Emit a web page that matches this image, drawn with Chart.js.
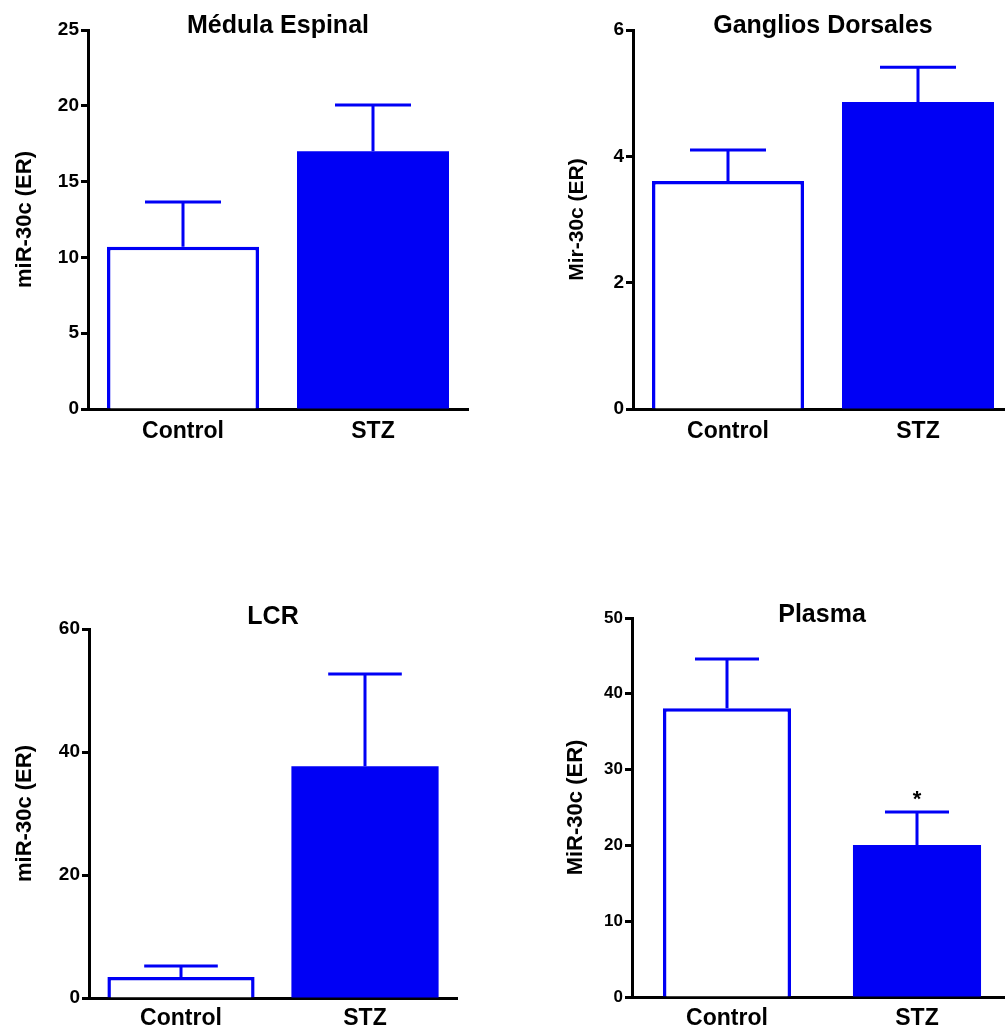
<!DOCTYPE html>
<html>
<head>
<meta charset="utf-8">
<script src="https://cdn.jsdelivr.net/npm/chart.js@4/dist/chart.umd.min.js"></script>
<style>
  html, body { margin: 0; padding: 0; background: #fff; overflow: hidden; width: 1005px; height: 1029px; }
  .panel { position: absolute; }
</style>
</head>
<body>
<div class="panel" style="left:0px;top:0px"><canvas id="c1" width="480" height="460"></canvas></div>
<div class="panel" style="left:520px;top:0px"><canvas id="c2" width="500" height="460"></canvas></div>
<div class="panel" style="left:0px;top:560px"><canvas id="c3" width="480" height="469"></canvas></div>
<div class="panel" style="left:520px;top:560px"><canvas id="c4" width="500" height="469"></canvas></div>
<script>
// groups
var categories = ["Control", "STZ"];

// Médula Espinal
var medulaValues = [10.7, 17.0];
var medulaErrors = [2.95, 3.05];
var medulaTicks = [0, 25, 5];

// Ganglios Dorsales
var gangliosValues = [3.61, 4.86];
var gangliosErrors = [0.49, 0.55];
var gangliosTicks = [0, 6, 2];

// LCR
var lcrValues = [3.4, 37.7];
var lcrErrors = [1.8, 15.0];
var lcrTicks = [0, 60, 20];

// Plasma
var plasmaValues = [38.1, 20.05];
var plasmaErrors = [6.5, 4.35];
var plasmaTicks = [0, 50, 10];
var plasmaMarks = ["", "*"];

var blue = "rgb(0,0,245)";
var fam = "'Liberation Sans', Arial, sans-serif";
Chart.defaults.font.family = fam;
Chart.defaults.color = "#000";

// draws mean + SEM whiskers and significance marks above them
var errorBars = {
    id: "errorBars",
    afterDatasetsDraw: function (chart, args, opts) {
        var ctx = chart.ctx;
        var ys = chart.scales.y;
        var meta = chart.getDatasetMeta(0);
        var vals = chart.data.datasets[0].data;
        ctx.save();
        ctx.strokeStyle = blue;
        ctx.lineWidth = 3;
        meta.data.forEach(function (bar, i) {
            var top = ys.getPixelForValue(vals[i] + opts.errors[i]);
            var half = bar.width / 4;
            ctx.beginPath();
            ctx.moveTo(bar.x, bar.y);
            ctx.lineTo(bar.x, top);
            ctx.moveTo(bar.x - half, top);
            ctx.lineTo(bar.x + half, top);
            ctx.stroke();
            if (opts.marks && opts.marks[i]) {
                ctx.fillStyle = "#000";
                ctx.font = "bold 22px " + fam;
                ctx.textAlign = "center";
                ctx.textBaseline = "middle";
                ctx.fillText(opts.marks[i], bar.x, top - 12);
            }
        });
        ctx.restore();
    }
};

function makeChart(id, cfg) {
    var ctx = document.getElementById(id).getContext("2d");
    return new Chart(ctx, {
        type: "bar",
        data: {
            labels: categories,
            datasets: [{
                data: cfg.values,
                backgroundColor: ["#ffffff", blue],
                borderColor: blue,
                borderWidth: [3.5, 0],
                borderSkipped: "bottom",
                barPercentage: 1,
                categoryPercentage: cfg.barPct
            }]
        },
        options: {
            responsive: false,
            animation: false,
            layout: { padding: { right: cfg.padRight, left: 0, top: 0, bottom: 0 } },
            plugins: {
                legend: { display: false },
                tooltip: { enabled: false },
                title: {
                    display: true,
                    text: cfg.title,
                    fullSize: false,
                    color: "#000",
                    font: { size: 25, weight: "bold", lineHeight: 1 },
                    padding: cfg.titlePad
                },
                errorBars: { errors: cfg.errors, marks: cfg.marks }
            },
            scales: {
                x: {
                    grid: { display: false, drawTicks: false },
                    border: { display: true, color: "#000", width: 3 },
                    ticks: { font: { size: 23, weight: "bold" }, color: "#000", padding: cfg.xPad },
                    afterFit: function (s) { s.height = cfg.xHeight; }
                },
                y: {
                    min: cfg.ticks[0],
                    max: cfg.ticks[1],
                    grid: { drawOnChartArea: false, color: "#000", tickColor: "#000", tickWidth: 3, tickLength: 7 },
                    border: { display: true, color: "#000", width: 3 },
                    ticks: { stepSize: cfg.ticks[2], font: { size: cfg.tickSize, weight: "bold" }, color: "#000", padding: 2 },
                    title: {
                        display: true,
                        text: cfg.yTitle,
                        color: "#000",
                        font: { size: cfg.yTitleSize, weight: "bold" },
                        padding: { top: cfg.yTitlePad, bottom: 0 }
                    },
                    afterFit: function (s) { s.width = cfg.yWidth; }
                }
            }
        },
        plugins: [errorBars]
    });
}

makeChart("c1", {
    title: "Médula Espinal", yTitle: "miR-30c (ER)",
    values: medulaValues, errors: medulaErrors, ticks: medulaTicks,
    barPct: 0.8, padRight: 12, yWidth: 88, xHeight: 51, xPad: 9,
    titlePad: { top: 13.5, bottom: -8.5 }, yTitlePad: 11.5, yTitleSize: 22, tickSize: 19
});

makeChart("c2", {
    title: "Ganglios Dorsales", yTitle: "Mir-30c (ER)",
    values: gangliosValues, errors: gangliosErrors, ticks: gangliosTicks,
    barPct: 0.8, padRight: 7, yWidth: 113, xHeight: 51, xPad: 9,
    titlePad: { top: 13.5, bottom: -8.5 }, yTitlePad: 45, yTitleSize: 21, tickSize: 19
});

makeChart("c3", {
    title: "LCR", yTitle: "miR-30c (ER)",
    values: lcrValues, errors: lcrErrors, ticks: lcrTicks,
    barPct: 0.8, padRight: 23, yWidth: 89, xHeight: 31, xPad: 7,
    titlePad: { top: 44.5, bottom: -0.5 }, yTitlePad: 11.5, yTitleSize: 22, tickSize: 19
});

makeChart("c4", {
    title: "Plasma", yTitle: "MiR-30c (ER)",
    values: plasmaValues, errors: plasmaErrors, ticks: plasmaTicks, marks: plasmaMarks,
    barPct: 0.674, padRight: 8, yWidth: 112, xHeight: 32, xPad: 8,
    titlePad: { top: 42.5, bottom: -9.5 }, yTitlePad: 42.5, yTitleSize: 22, tickSize: 17
});
</script>
</body>
</html>
